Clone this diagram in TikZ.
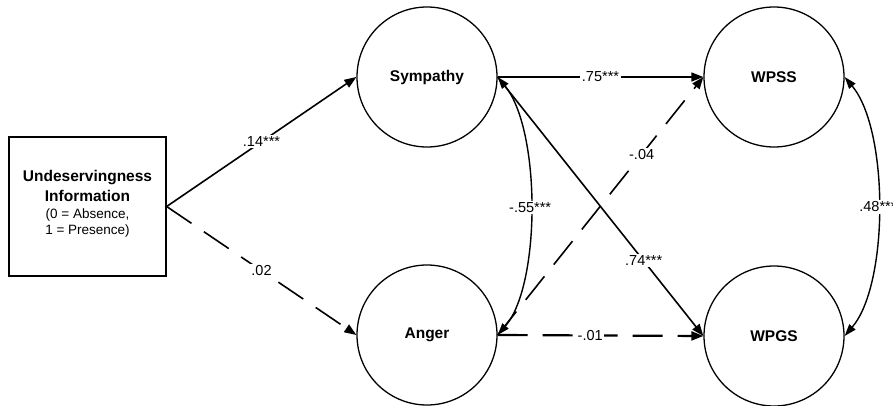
\documentclass[tikz,border=0pt]{standalone}
\usepackage{fontspec}
\setmainfont{Liberation Sans}
\usetikzlibrary{arrows.meta}

\begin{document}
\begin{tikzpicture}[x=1pt,y=-1pt,
  latent/.style={circle, draw, line width=1.3pt, minimum size=140pt, inner sep=0pt,
    font=\fontsize{15.5}{18}\selectfont\bfseries},
  observed/.style={draw, line width=1.3pt, minimum width=157pt, minimum height=139pt,
    inner sep=0pt, align=center, font=\fontsize{15.5}{20}\selectfont},
  regpath/.style={line width=1.6pt, -{Triangle[length=12pt,width=9pt]}},
  dashpath/.style={regpath, dash pattern=on 30pt off 15pt},
  covpath/.style={line width=1.4pt,
    {Triangle[length=12pt,width=8pt]}-{Triangle[length=12pt,width=8pt]}},
  coef/.style={fill=white, inner sep=1.5pt, font=\fontsize{14.5}{16}\selectfont}]

\useasboundingbox (0,0) rectangle (893,406);

% exogenous manipulation (baselineskip held at 20pt, small lines pulled up;
% the deep strut on the last line lifts the text block a little)
\node[observed] (info) at (87.5,206.5) {%
  \textbf{Undeservingness}\\
  \textbf{Information}\\[-3pt]
  \fontsize{13.5}{20}\selectfont (0 = Absence,\\[-4pt]
  \fontsize{13.5}{20}\selectfont 1 = Presence)\rule[-8.8pt]{0pt}{0pt}};

% latent constructs
\node[latent] (sym)  at (427,77)  {Sympathy};
\node[latent] (ang)  at (427,335) {Anger};
\node[latent] (wpss) at (774,77)  {WPSS};
\node[latent] (wpgs) at (774,336) {WPGS};

% structural paths
\draw[regpath]  (info.east) -- (sym.west)  node[coef, midway] {.14***};
\draw[dashpath] (info.east) -- (ang.west)  node[coef, midway] {.02};
\draw[regpath]  (sym.east)  -- (wpss.west) node[coef, midway] {.75***};
\draw[dashpath, line width=2.2pt] (ang.east) -- (wpgs.west) node[coef, pos=0.45] {-.01};
\draw[regpath]  (sym.east)  -- (wpgs.west) node[coef, pos=0.71] {.74***};
\draw[dashpath] (ang.east)  -- (wpss.west) node[coef, pos=0.70] {-.04};

% residual covariances
\draw[covpath] (sym.east) .. controls (541,130) and (541,285) .. (ang.east)
  node[coef, pos=0.5] {-.55***};
\draw[covpath] (wpss.east) .. controls (889,130) and (889,284) .. (wpgs.east)
  node[coef, pos=0.5] {.48***};

\end{tikzpicture}
\end{document}
